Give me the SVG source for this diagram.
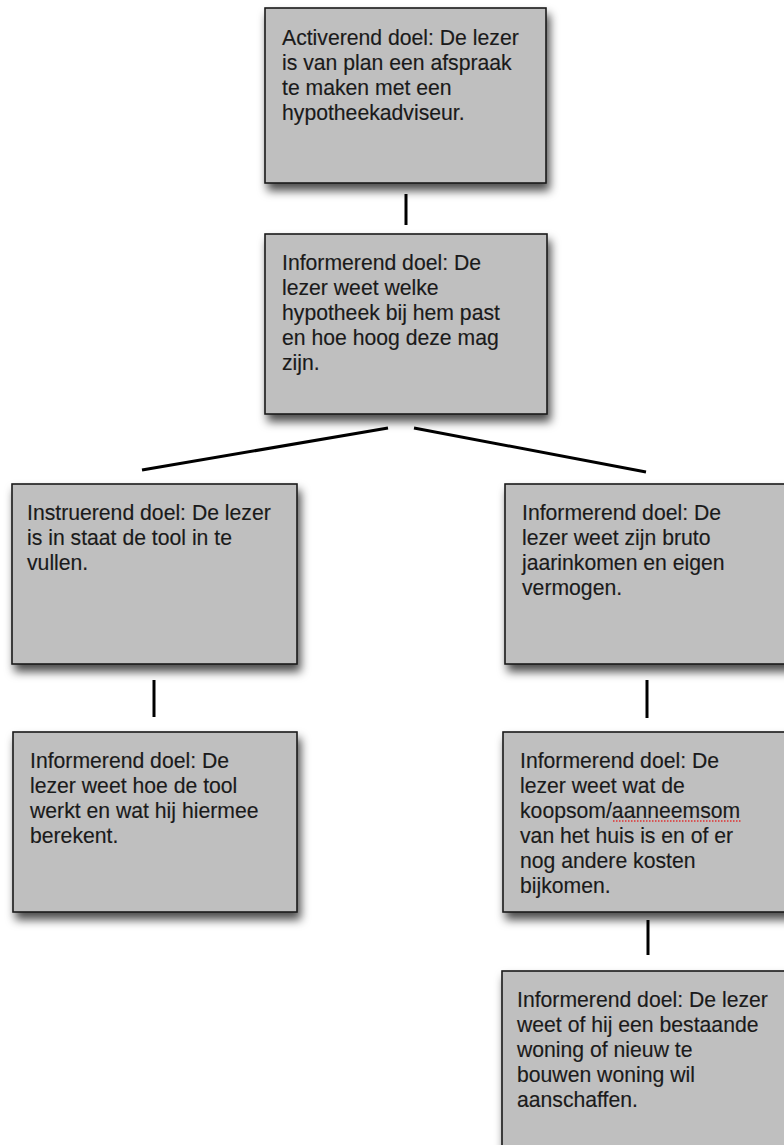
<svg xmlns="http://www.w3.org/2000/svg" width="784" height="1145" viewBox="0 0 784 1145">
<style>
.box{fill:#bfbfbf;stroke:#1a1a1a;stroke-width:1.6;filter:url(#sh)}
.t{font-family:"Liberation Sans",Arial,sans-serif;font-size:21.2px;fill:#1a1a1a;stroke:#1a1a1a;stroke-width:0.15}
.c{stroke:#000;stroke-width:3;fill:none;stroke-linecap:butt}
</style>
<defs>
<filter id="sh" x="-10%" y="-10%" width="125%" height="135%">
<feDropShadow dx="3" dy="7" stdDeviation="5" flood-color="#000" flood-opacity="0.7"/>
</filter>
</defs>
<rect width="784" height="1145" fill="#fff"/>
<g id="connectors">
<line class="c" x1="406" y1="194" x2="406" y2="225"/>
<line class="c" x1="388" y1="428" x2="142" y2="470"/>
<line class="c" x1="414" y1="428" x2="646" y2="472"/>
<line class="c" x1="154" y1="680" x2="154" y2="717"/>
<line class="c" x1="647" y1="680" x2="647" y2="718"/>
<line class="c" x1="648" y1="920" x2="648" y2="955"/>
</g>
<g id="n1">
<rect class="box" x="265" y="8" width="281" height="175"/>
<text class="t" x="282"><tspan x="282" y="45">Activerend doel: De lezer</tspan><tspan x="282" y="70">is van plan een afspraak</tspan><tspan x="282" y="95">te maken met een</tspan><tspan x="282" y="120">hypotheekadviseur.</tspan></text>
</g>
<g id="n2">
<rect class="box" x="265" y="234" width="282" height="180"/>
<text class="t"><tspan x="282" y="270">Informerend doel: De</tspan><tspan x="282" y="295">lezer weet welke</tspan><tspan x="282" y="320">hypotheek bij hem past</tspan><tspan x="282" y="345">en hoe hoog deze mag</tspan><tspan x="282" y="370">zijn.</tspan></text>
</g>
<g id="n3">
<rect class="box" x="12" y="484" width="285" height="180"/>
<text class="t"><tspan x="27" y="520">Instruerend doel: De lezer</tspan><tspan x="27" y="545">is in staat de tool in te</tspan><tspan x="27" y="570">vullen.</tspan></text>
</g>
<g id="n4">
<rect class="box" x="505" y="484" width="290" height="180"/>
<text class="t"><tspan x="522" y="520">Informerend doel: De</tspan><tspan x="522" y="545">lezer weet zijn bruto</tspan><tspan x="522" y="570">jaarinkomen en eigen</tspan><tspan x="522" y="595">vermogen.</tspan></text>
</g>
<g id="n5">
<rect class="box" x="13" y="732" width="284" height="180"/>
<text class="t"><tspan x="30" y="768">Informerend doel: De</tspan><tspan x="30" y="793">lezer weet hoe de tool</tspan><tspan x="30" y="818">werkt en wat hij hiermee</tspan><tspan x="30" y="843">berekent.</tspan></text>
</g>
<g id="n6">
<rect class="box" x="503" y="732" width="292" height="180"/>
<text class="t"><tspan x="520" y="768">Informerend doel: De</tspan><tspan x="520" y="793">lezer weet wat de</tspan><tspan x="520" y="818">koopsom/aanneemsom</tspan><tspan x="520" y="843">van het huis is en of er</tspan><tspan x="520" y="868">nog andere kosten</tspan><tspan x="520" y="893">bijkomen.</tspan></text>
<line x1="613" y1="821" x2="742" y2="821" stroke="#e03030" stroke-width="1.5" stroke-dasharray="1.5 1.5"/>
</g>
<g id="n7">
<rect class="box" x="502" y="971" width="293" height="190"/>
<text class="t"><tspan x="517" y="1007">Informerend doel: De lezer</tspan><tspan x="517" y="1032">weet of hij een bestaande</tspan><tspan x="517" y="1057">woning of nieuw te</tspan><tspan x="517" y="1082">bouwen woning wil</tspan><tspan x="517" y="1107">aanschaffen.</tspan></text>
</g>
</svg>
